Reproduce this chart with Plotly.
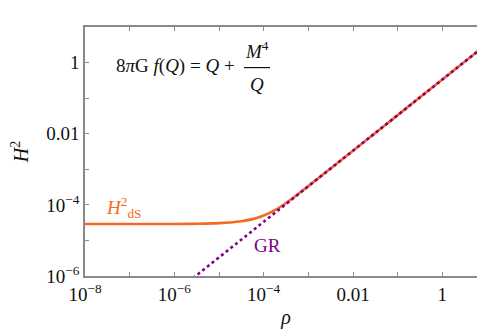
import plotly.graph_objects as go

# density values (rho) and H^2
rho_ds = [1e-8, 1e-7, 1e-6, 3.16e-6, 1e-5, 1.78e-5, 3.16e-5, 5.62e-5, 7.5e-5,
          1e-4, 1.33e-4, 1.78e-4, 2.37e-4, 3.16e-4, 4.2e-4, 5.62e-4, 1e-3,
          3.16e-3, 1e-2, 0.1, 1, 10]
h2_ds = [2.89e-5, 2.89e-5, 2.90e-5, 2.94e-5, 3.06e-5, 3.20e-5, 3.46e-5, 3.97e-5, 4.40e-5,
         5.0e-5, 5.86e-5, 7.10e-5, 8.84e-5, 1.128e-4, 1.46e-4, 1.917e-4, 3.36e-4,
         1.055e-3, 3.334e-3, 3.333e-2, 0.3333, 3.333]

rho_gr = [1e-8, 1e-6, 1e-4, 1e-2, 1, 10]
h2_gr = [3.33e-9, 3.33e-7, 3.33e-5, 3.33e-3, 0.333, 3.333]

x_tickvals = [1e-8, 1e-6, 1e-4, 1e-2, 1]
x_ticktext = ["10<sup>−8</sup>", "10<sup>−6</sup>", "10<sup>−4</sup>", "0.01", "1"]
y_tickvals = [1e-6, 1e-4, 1e-2, 1]
y_ticktext = ["10<sup>−6</sup>", "10<sup>−4</sup>", "0.01", "1"]
x_minor = [1e-7, 1e-5, 1e-3, 0.1, 10]
y_minor = [1e-5, 1e-3, 0.1, 10]

orange = "#F7691E"
purple = "#800080"
font_family = "Liberation Serif"

fig = go.Figure()
fig.add_trace(go.Scatter(x=rho_ds, y=h2_ds, mode="lines",
                         line=dict(color=orange, width=2.6), line_shape="spline",
                         showlegend=False, hoverinfo="skip"))
fig.add_trace(go.Scatter(x=rho_gr, y=h2_gr, mode="lines",
                         line=dict(color=purple, width=2.6, dash="3px,3px"),
                         showlegend=False, hoverinfo="skip"))

axis_common = dict(
    type="log", showgrid=False, zeroline=False, automargin=False,
    showline=True, linecolor="#8a8a8a", linewidth=1.5, mirror="ticks",
    ticks="inside", ticklen=4, tickwidth=1, tickcolor="#8a8a8a",
    tickfont=dict(family=font_family, size=19, color="#111"),
)

fig.update_xaxes(range=[-8, 1], tickmode="array", tickvals=x_tickvals, ticktext=x_ticktext,
                 minor=dict(tickvals=x_minor, ticks="inside", ticklen=4, tickcolor="#8a8a8a"),
                 title=dict(text="<i>ρ</i>", font=dict(family=font_family, size=20, color="#111"),
                            standoff=6),
                 **axis_common)
fig.update_yaxes(range=[-6, 1], tickmode="array", tickvals=y_tickvals, ticktext=y_ticktext,
                 minor=dict(tickvals=y_minor, ticks="inside", ticklen=4, tickcolor="#8a8a8a"),
                 title=dict(text="<i>H</i><sup>2</sup>", font=dict(family=font_family, size=20, color="#111"),
                            standoff=12),
                 **axis_common)

tf = dict(family=font_family, size=19, color="#111")
fig.add_annotation(xref="paper", yref="paper", x=(229 - 77) / 402, y=(268 - 58) / 248.5,
                   xanchor="right", yanchor="middle", showarrow=False,
                   text="8<i>π</i>G <i>f</i>(<i>Q</i>) = <i>Q</i> +", font=tf)
fig.add_annotation(xref="paper", yref="paper", x=(249 - 77) / 402, y=(268 - 42) / 248.5,
                   xanchor="center", yanchor="middle", showarrow=False,
                   text="<i>M</i><sup>4</sup>", font=tf)
fig.add_annotation(xref="paper", yref="paper", x=(249 - 77) / 402, y=(268 - 77) / 248.5,
                   xanchor="center", yanchor="middle", showarrow=False,
                   text="<i>Q</i>", font=tf)
fig.add_shape(type="line", xref="paper", yref="paper",
              x0=(236 - 77) / 402, x1=(262 - 77) / 402,
              y0=(268 - 60) / 248.5, y1=(268 - 60) / 248.5,
              line=dict(color="#111", width=1.2))
fig.add_annotation(xref="paper", yref="paper", x=(96 - 77) / 402, y=(268 - 200) / 248.5,
                   xanchor="left", yanchor="middle", showarrow=False,
                   text="<i>H</i><sup>2</sup><sub>dS</sub>",
                   font=dict(family=font_family, size=19, color=orange))
fig.add_annotation(xref="paper", yref="paper", x=(259 - 77) / 402, y=(268 - 238) / 248.5,
                   xanchor="center", yanchor="middle", showarrow=False,
                   text="GR", font=dict(family=font_family, size=19, color=purple))

fig.update_layout(width=485, height=332, margin=dict(l=77, r=6, t=19, b=64),
                  plot_bgcolor="white", paper_bgcolor="white")
fig.write_html("out.html")
